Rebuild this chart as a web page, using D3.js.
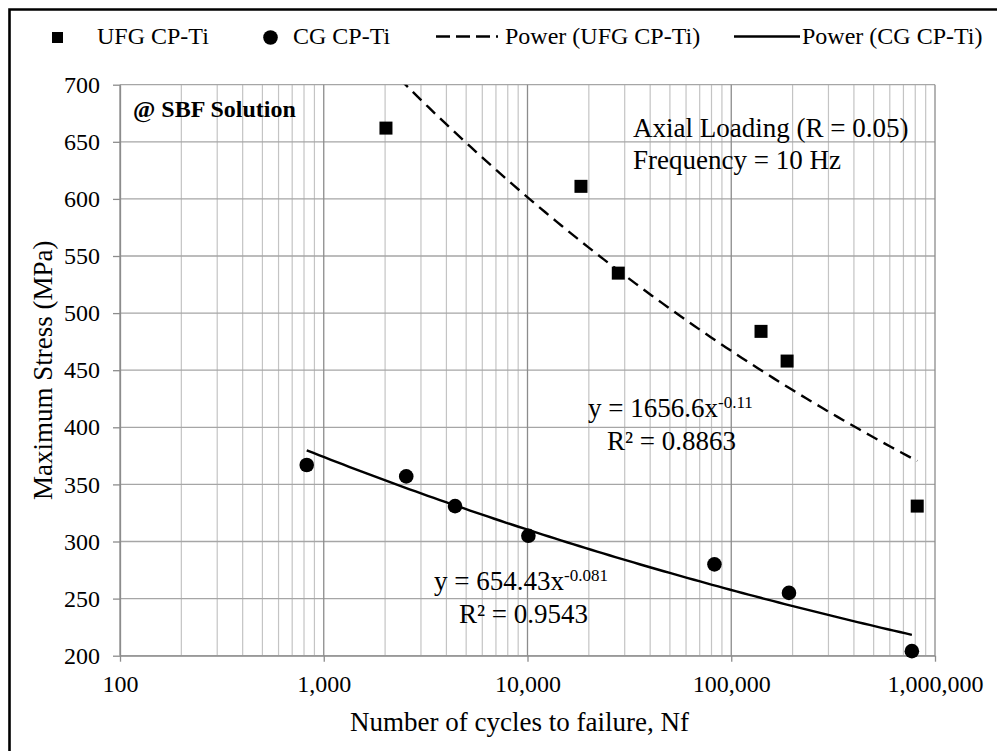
<!DOCTYPE html>
<html>
<head>
<meta charset="utf-8">
<script src="https://cdn.jsdelivr.net/npm/d3@7"></script>
<style>
  body { margin: 0; background: #fff; }
  text { font-family: "Liberation Serif", "Times New Roman", serif; fill: #000; }
</style>
</head>
<body>
<div id="chart"></div>
<script>
// data
const xTickValues = [100, 1000, 10000, 100000, 1000000];
const yTickValues = [200, 250, 300, 350, 400, 450, 500, 550, 600, 650, 700];

const ufgCycles = [2020, 18300, 27900, 140000, 188000, 818000];
const ufgStress = [662, 611, 535, 484, 458, 331];

const cgCycles = [825, 2540, 4410, 10100, 82700, 192000, 770000];
const cgStress = [367, 357, 331, 305, 280, 255, 204];

// power trendlines y = a * x^b, as printed on the chart
const ufgFit = [1656.6, -0.11];
const cgFit = [654.43, -0.081];

const legendNames = ["UFG CP-Ti", "CG CP-Ti", "Power (UFG CP-Ti)", "Power (CG CP-Ti)"];

const svgWidth = 997,
      svgHeight = 751,
      margin = { top: 84.7, right: 62, bottom: 95.3, left: 120 };

const width = svgWidth - margin.left - margin.right;
const height = svgHeight - margin.top - margin.bottom;

const svg = d3.select("#chart")
  .append("svg")
  .attr("width", svgWidth)
  .attr("height", svgHeight);

svg.append("rect")
  .attr("width", svgWidth)
  .attr("height", svgHeight)
  .attr("fill", "#fff");

// outer frame (right/bottom sides fall outside the picture)
svg.append("path")
  .attr("d", `M9.5,${svgHeight} V9.5 H${svgWidth}`)
  .attr("fill", "none")
  .attr("stroke", "#000")
  .attr("stroke-width", 2.6);

const chartGroup = svg.append("g")
  .attr("transform", `translate(${margin.left}, ${margin.top})`);

const xScale = d3.scaleLog().domain([100, 1000000]).range([0, width]);
const yScale = d3.scaleLinear().domain([200, 700]).range([height, 0]);

// minor vertical grid
const minorX = [];
for (let dec = 100; dec < 1000000; dec *= 10) {
  for (let k = 2; k <= 9; k++) minorX.push(dec * k);
}
chartGroup.append("g").selectAll("line")
  .data(minorX)
  .enter()
  .append("line")
  .attr("x1", d => xScale(d)).attr("x2", d => xScale(d))
  .attr("y1", 0).attr("y2", height)
  .attr("stroke", "#c4c4c4")
  .attr("stroke-width", 1.2);

// horizontal grid
chartGroup.append("g").selectAll("line")
  .data(yTickValues)
  .enter()
  .append("line")
  .attr("x1", 0).attr("x2", width)
  .attr("y1", d => yScale(d)).attr("y2", d => yScale(d))
  .attr("stroke", "#a6a6a6")
  .attr("stroke-width", 1.3);

// major vertical grid
chartGroup.append("g").selectAll("line")
  .data(xTickValues)
  .enter()
  .append("line")
  .attr("x1", d => xScale(d)).attr("x2", d => xScale(d))
  .attr("y1", 0).attr("y2", height)
  .attr("stroke", "#8c8c8c")
  .attr("stroke-width", 1.3);

// axes
const bottomAxis = d3.axisBottom(xScale)
  .tickValues(xTickValues)
  .tickFormat(d3.format(","))
  .tickSizeInner(6)
  .tickSizeOuter(0)
  .tickPadding(8);

const leftAxis = d3.axisLeft(yScale)
  .tickValues(yTickValues)
  .tickSizeInner(7)
  .tickSizeOuter(0)
  .tickPadding(13);

const xAxis = chartGroup.append("g")
  .attr("transform", `translate(0, ${height})`)
  .call(bottomAxis);

const yAxis = chartGroup.append("g")
  .call(leftAxis);

[xAxis, yAxis].forEach(ax => {
  ax.select(".domain").attr("stroke", "#8c8c8c").attr("stroke-width", 1.3);
  ax.selectAll(".tick line").attr("stroke", "#8c8c8c").attr("stroke-width", 1.3);
  ax.selectAll(".tick text")
    .attr("font-family", "Liberation Serif")
    .attr("font-size", "24px")
    .attr("fill", "#000");
});
xAxis.selectAll(".tick text").attr("dy", "0.95em");

// axis titles
chartGroup.append("text")
  .attr("x", width / 2 - 8)
  .attr("y", height + 75)
  .attr("text-anchor", "middle")
  .attr("font-size", "27px")
  .text("Number of cycles to failure, Nf");

chartGroup.append("text")
  .attr("transform", "rotate(-90)")
  .attr("x", -height / 2)
  .attr("y", 52 - margin.left)
  .attr("text-anchor", "middle")
  .attr("font-size", "27px")
  .text("Maximum Stress (MPa)");

// trendlines
chartGroup.append("clipPath")
  .attr("id", "plotClip")
  .append("rect")
  .attr("width", width)
  .attr("height", height);

function fitPoints(cycles, fit) {
  const lo = Math.log10(d3.min(cycles)), hi = Math.log10(d3.max(cycles));
  return d3.range(0, 101).map(i => {
    const x = Math.pow(10, lo + (hi - lo) * i / 100);
    return [x, fit[0] * Math.pow(x, fit[1])];
  });
}

const fitLine = d3.line()
  .x(d => xScale(d[0]))
  .y(d => yScale(d[1]));

chartGroup.append("path")
  .datum(fitPoints(ufgCycles, ufgFit))
  .attr("clip-path", "url(#plotClip)")
  .attr("d", fitLine)
  .attr("fill", "none")
  .attr("stroke", "#000")
  .attr("stroke-width", 2.4)
  .attr("stroke-dasharray", "12,7");

chartGroup.append("path")
  .datum(fitPoints(cgCycles, cgFit))
  .attr("d", fitLine)
  .attr("fill", "none")
  .attr("stroke", "#000")
  .attr("stroke-width", 2.4);

// markers
const ufgData = ufgCycles.map((c, i) => ({ cycles: c, stress: ufgStress[i] }));
const cgData = cgCycles.map((c, i) => ({ cycles: c, stress: cgStress[i] }));

chartGroup.append("g").selectAll("rect")
  .data(ufgData)
  .enter()
  .append("rect")
  .attr("x", d => xScale(d.cycles) - 6.5)
  .attr("y", d => yScale(d.stress) - 6.5)
  .attr("width", 13)
  .attr("height", 13)
  .attr("fill", "#000");

chartGroup.append("g").selectAll("circle")
  .data(cgData)
  .enter()
  .append("circle")
  .attr("cx", d => xScale(d.cycles))
  .attr("cy", d => yScale(d.stress))
  .attr("r", 7.3)
  .attr("fill", "#000");

// annotations
svg.append("text")
  .attr("x", 133)
  .attr("y", 117)
  .attr("font-size", "24px")
  .attr("font-weight", "bold")
  .text("@ SBF Solution");

svg.append("text")
  .attr("x", 633)
  .attr("y", 137)
  .attr("font-size", "27px")
  .text("Axial Loading (R = 0.05)");

svg.append("text")
  .attr("x", 633)
  .attr("y", 169)
  .attr("font-size", "27px")
  .text("Frequency = 10 Hz");

function equation(x, y, coef, expo, r2, r2x) {
  const t = svg.append("text")
    .attr("x", x)
    .attr("y", y)
    .attr("font-size", "27px");
  t.append("tspan").text(`y = ${coef}x`);
  t.append("tspan").attr("dy", -9).attr("font-size", "17px").text(expo);
  svg.append("text")
    .attr("x", r2x)
    .attr("y", y + 33)
    .attr("font-size", "27px")
    .text(`R² = ${r2}`);
}
equation(588, 417, "1656.6", "-0.11", "0.8863", 607);
equation(434, 590, "654.43", "-0.081", "0.9543", 459);

// legend
const legend = svg.append("g").attr("transform", "translate(0, 37.5)");
legend.append("rect")
  .attr("x", 52).attr("y", -5.5)
  .attr("width", 11).attr("height", 11)
  .attr("fill", "#000");
legend.append("circle")
  .attr("cx", 270.5).attr("cy", 0).attr("r", 7.3)
  .attr("fill", "#000");
legend.append("line")
  .attr("x1", 436).attr("x2", 498)
  .attr("y1", -1).attr("y2", -1)
  .attr("stroke", "#000").attr("stroke-width", 2.6)
  .attr("stroke-dasharray", "14,6");
legend.append("line")
  .attr("x1", 734).attr("x2", 800)
  .attr("y1", -1).attr("y2", -1)
  .attr("stroke", "#000").attr("stroke-width", 2.6);

const legendX = [97, 293, 505, 802];
legend.selectAll("text.lg")
  .data(legendNames)
  .enter()
  .append("text")
  .attr("class", "lg")
  .attr("x", (d, i) => legendX[i])
  .attr("y", 6)
  .attr("font-size", "24px")
  .text(d => d);
</script>
</body>
</html>
